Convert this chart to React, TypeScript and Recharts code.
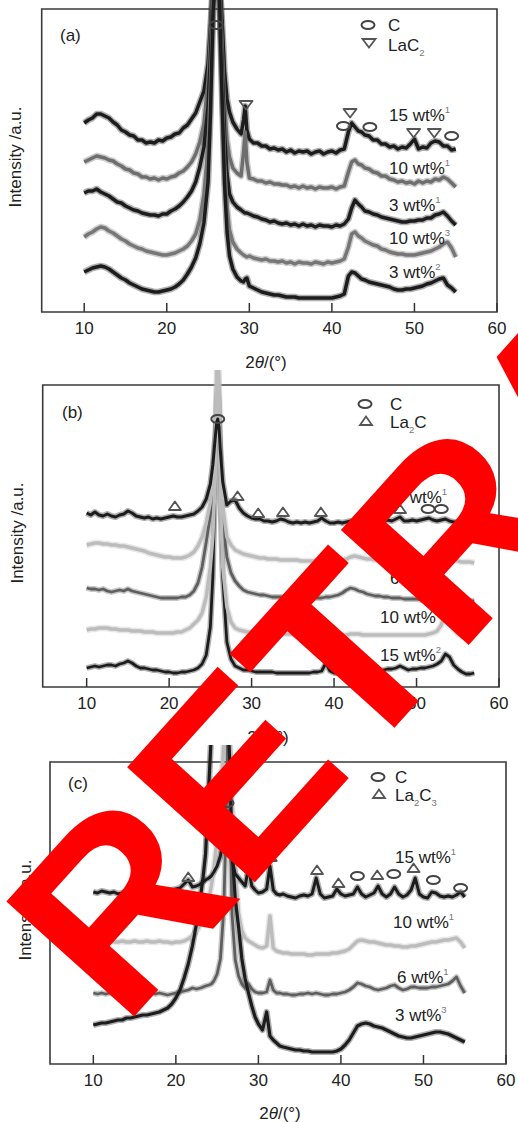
import React from 'react';
import { ComposedChart, Line, XAxis, YAxis, ReferenceArea, ReferenceDot } from 'recharts';

const F = "'Liberation Sans', Arial, Helvetica, sans-serif";

// ---------- Panel (a) ----------
const gridA = [
  10, 10.5, 11, 11.5, 12, 12.5, 13, 13.5, 14, 14.5,
  15, 15.5, 16, 16.5, 17, 17.5, 18, 18.5, 19, 19.5,
  20, 20.5, 21, 21.5, 22, 22.5, 23, 23.5, 24, 24.5,
  25, 25.3, 25.6, 26, 26.4, 26.7, 27, 27.3, 27.6, 28,
  28.5, 29, 29.3, 29.5, 29.7, 30, 30.5, 31, 31.5, 32,
  32.5, 33, 33.5, 34, 34.5, 35, 35.5, 36, 36.5, 37,
  37.5, 38, 38.5, 39, 39.5, 40, 40.5, 41, 41.5, 42,
  42.4, 42.8, 43.2, 43.6, 44, 44.5, 45, 45.5, 46, 46.5,
  47, 47.5, 48, 48.5, 49, 49.5, 50, 50.5, 51, 51.5,
  52, 52.5, 53, 53.5, 54, 54.5, 55,
];
const a15w1 = [
  189, 192, 194, 198, 198, 196, 194, 190, 187, 182,
  180, 177, 176, 172, 172, 169, 170, 169, 172, 171,
  174, 175, 178, 179, 184, 187, 193, 199, 210, 221,
  248, 285, 330, 345, 330, 290, 240, 213, 200, 190,
  183, 178, 192, 206, 182, 173, 169, 169, 166, 166,
  163, 164, 162, 163, 160, 162, 159, 161, 160, 161,
  158, 160, 161, 158, 160, 161, 159, 162, 163, 180,
  189, 185, 181, 180, 177, 176, 172, 172, 168, 168,
  165, 166, 163, 165, 164, 168, 173, 163, 165, 164,
  169, 171, 170, 166, 166, 162, 163,
];
const a10w1 = [
  150, 152, 154, 156, 155, 154, 152, 151, 148, 146,
  143, 142, 139, 138, 135, 135, 133, 134, 132, 134,
  133, 135, 136, 139, 141, 145, 150, 158, 170, 188,
  232, 278, 330, 345, 325, 270, 205, 172, 155, 144,
  139, 136, 160, 180, 150, 134, 133, 131, 131, 129,
  130, 128, 128, 127, 127, 125, 126, 124, 126, 124,
  125, 123, 125, 124, 124, 125, 123, 125, 126, 140,
  150, 152, 148, 147, 144, 143, 140, 139, 136, 136,
  133, 132, 130, 131, 129, 130, 128, 131, 129, 131,
  130, 133, 132, 135, 133, 129, 125,
];
const a3w1 = [
  119, 121, 121, 123, 120, 118, 116, 113, 110, 109,
  106, 104, 102, 101, 99, 98, 97, 97, 96, 98,
  98, 101, 103, 106, 110, 115, 121, 130, 145, 165,
  205, 258, 320, 345, 320, 250, 178, 138, 118, 110,
  105, 102, 100, 99, 99, 98, 96, 95, 93, 92,
  90, 91, 89, 88, 89, 87, 88, 86, 88, 86,
  87, 85, 87, 86, 86, 85, 87, 86, 88, 93,
  104, 112, 108, 105, 101, 100, 98, 97, 95, 94,
  93, 92, 91, 90, 90, 91, 91, 92, 92, 94,
  94, 97, 98, 100, 96, 91, 87,
];
const a10w3 = [
  75, 78, 80, 83, 85, 84, 81, 79, 76, 73,
  71, 68, 66, 64, 63, 61, 60, 59, 58, 57,
  57, 58, 59, 61, 63, 66, 71, 78, 92, 118,
  165, 230, 310, 345, 315, 230, 150, 105, 82, 70,
  63, 59, 57, 56, 55, 56, 54, 53, 52, 53,
  51, 51, 50, 51, 49, 50, 48, 50, 49, 49,
  48, 50, 49, 48, 50, 49, 50, 51, 53, 65,
  78, 80, 76, 74, 71, 69, 67, 66, 63, 62,
  60, 59, 58, 58, 57, 57, 57, 58, 59, 60,
  61, 63, 65, 68, 70, 64, 55,
];
const a3w2 = [
  40, 42, 44, 45, 46, 45, 43, 40, 37, 34,
  32, 29, 27, 25, 23, 22, 21, 20, 20, 21,
  22, 23, 25, 28, 32, 38, 45, 54, 68, 89,
  130, 200, 300, 345, 310, 215, 128, 80, 56, 43,
  35, 31, 30, 33, 34, 26, 24, 22, 20, 19,
  18, 17, 17, 16, 15, 15, 15, 14, 14, 14,
  14, 14, 14, 14, 14, 14, 15, 16, 18, 36,
  40, 39, 36, 33, 32, 30, 29, 28, 27, 26,
  25, 23, 22, 22, 23, 23, 24, 25, 26, 28,
  29, 31, 33, 34, 27, 24, 20,
];
const aMarkC = [[26.0, 287], [41.4, 186], [44.6, 185], [54.5, 176]];
const aMarkLaC2 = [[29.6, 207], [42.2, 199], [49.9, 179], [52.4, 179]];

// ---------- Panel (b) ----------
const gridB = [
  10, 10.5, 11, 11.5, 12, 12.5, 13, 13.5, 14, 14.5,
  15, 15.5, 16, 16.5, 17, 17.5, 18, 18.5, 19, 19.5,
  20, 20.5, 21, 21.5, 22, 22.5, 23, 23.5, 24, 24.5,
  25, 25.3, 25.6, 25.75, 25.9, 26.05, 26.2, 26.5, 27, 27.5,
  28, 28.5, 29, 29.5, 30, 30.5, 31, 31.5, 32, 32.5,
  33, 33.5, 34, 34.5, 35, 35.5, 36, 36.5, 37, 37.5,
  38, 38.5, 39, 39.5, 40, 40.5, 41, 41.5, 42, 42.5,
  43, 43.5, 44, 44.5, 45, 45.5, 46, 46.5, 47, 47.5,
  48, 48.5, 49, 49.5, 50, 50.5, 51, 51.5, 52, 52.5,
  53, 53.5, 54, 54.5, 55, 55.5, 56, 56.5, 57,
];
const b15w1 = [
  174, 172, 175, 172, 171, 173, 171, 170, 172, 173,
  176, 174, 171, 170, 169, 170, 168, 169, 168, 169,
  170, 171, 170, 170, 171, 172, 173, 176, 180, 188,
  203, 222, 250, 264, 268, 260, 238, 205, 182, 186,
  187, 179, 174, 171, 169, 168, 168, 166, 166, 165,
  166, 168, 167, 165, 164, 165, 164, 165, 164, 165,
  166, 169, 166, 164, 164, 165, 164, 165, 166, 165,
  165, 164, 165, 164, 165, 166, 166, 167, 166, 168,
  170, 166, 166, 167, 166, 167, 168, 169, 167, 166,
  167, 168, 166, 165, 165, 164, 165, 164, 164,
];
const b10w1 = [
  142, 143, 144, 144, 143, 143, 142, 142, 141, 141,
  140, 139, 138, 137, 136, 134, 133, 132, 131, 130,
  130, 129, 129, 129, 130, 132, 135, 141, 150, 164,
  185, 205, 250, 300, 335, 300, 230, 180, 150, 142,
  137, 135, 133, 132, 131, 130, 129, 129, 128, 128,
  128, 127, 127, 127, 127, 127, 126, 126, 126, 126,
  126, 126, 126, 126, 126, 126, 127, 128, 130, 131,
  130, 129, 128, 128, 127, 127, 127, 126, 126, 126,
  126, 126, 126, 126, 126, 126, 126, 127, 127, 127,
  128, 129, 128, 127, 126, 125, 125, 125, 124,
];
const b6w1 = [
  99, 98, 98, 97, 98, 96, 95, 96, 97, 96,
  98, 96, 95, 94, 93, 92, 91, 90, 89, 89,
  89, 89, 89, 90, 90, 92, 96, 104, 120, 145,
  172, 195, 235, 265, 280, 265, 215, 165, 130, 114,
  106, 101, 97, 95, 94, 93, 92, 92, 91, 90,
  90, 90, 90, 89, 89, 89, 89, 89, 89, 89,
  89, 89, 90, 90, 91, 92, 94, 97, 99, 98,
  96, 95, 93, 92, 91, 91, 90, 90, 89, 89,
  89, 88, 88, 88, 88, 87, 87, 87, 87, 87,
  88, 89, 88, 87, 87, 86, 86, 86, 86,
];
const b10w3 = [
  57, 58, 58, 59, 59, 59, 58, 58, 57, 57,
  57, 56, 56, 56, 55, 55, 55, 54, 54, 54,
  54, 54, 55, 55, 57, 59, 63, 67, 74, 90,
  120, 150, 210, 280, 335, 280, 190, 120, 80, 65,
  59, 57, 56, 55, 55, 54, 54, 54, 54, 53,
  53, 53, 53, 53, 53, 52, 52, 52, 52, 52,
  52, 52, 52, 52, 52, 52, 52, 52, 53, 53,
  53, 52, 52, 52, 52, 52, 52, 52, 52, 52,
  52, 52, 52, 52, 52, 52, 52, 53, 54, 56,
  62, 74, 70, 58, 53, 51, 50, 50, 50,
];
const b15w2 = [
  19, 20, 21, 20, 21, 22, 22, 21, 23, 24,
  26, 24, 21, 19, 19, 18, 17, 17, 16, 15,
  15, 14, 14, 15, 15, 16, 17, 19, 23, 32,
  60, 110, 215, 285, 300, 285, 195, 110, 45, 28,
  21, 19, 17, 17, 16, 15, 15, 15, 15, 15,
  14, 14, 14, 14, 14, 14, 14, 14, 14, 15,
  15, 16, 24, 16, 14, 14, 14, 14, 15, 15,
  15, 15, 15, 15, 16, 16, 17, 18, 18, 19,
  21, 19, 17, 18, 18, 19, 19, 20, 21, 23,
  26, 33, 30, 22, 18, 15, 13, 13, 14,
];
const bMarkC = [[25.9, 268], [51.4, 178], [53.0, 178]];
const bMarkLa2C = [[20.7, 181], [28.3, 191], [30.8, 174], [33.8, 175], [38.4, 175], [48.0, 178]];

// ---------- Panel (c) ----------
const gridC = [
  10, 10.5, 11, 11.5, 12, 12.5, 13, 13.5, 14, 14.5,
  15, 15.5, 16, 16.5, 17, 17.5, 18, 18.5, 19, 19.5,
  20, 20.5, 21, 21.5, 22, 22.5, 23, 23.3, 23.6, 24,
  24.3, 24.6, 25, 25.4, 25.8, 26.05, 26.3, 26.55, 26.8, 27.2,
  27.6, 28, 28.4, 28.8, 29.2, 29.6, 30, 30.5, 31, 31.4,
  31.8, 32.2, 32.6, 33, 33.5, 34, 34.5, 35, 35.5, 36,
  36.5, 37, 37.5, 38, 38.5, 39, 39.5, 40, 40.5, 41,
  41.5, 42, 42.5, 43, 43.5, 44, 44.5, 45, 45.5, 46,
  46.5, 47, 47.5, 48, 48.5, 49, 49.5, 50, 50.5, 51,
  51.5, 52, 52.5, 53, 53.5, 54, 54.5, 55,
];
const c15w1 = [
  172, 171, 173, 172, 171, 172, 170, 171, 172, 171,
  170, 172, 171, 170, 172, 171, 172, 173, 172, 174,
  175, 176, 180, 184, 177, 178, 180, 182, 184, 186,
  188, 192, 198, 208, 228, 245, 252, 235, 205, 190,
  186, 182, 178, 197, 178, 174, 171, 172, 175, 198,
  174, 170, 169, 170, 168, 167, 166, 168, 169, 168,
  170, 186, 170, 166, 167, 168, 175, 170, 168, 169,
  170, 177, 170, 167, 169, 171, 178, 170, 167, 170,
  177, 170, 167, 169, 174, 186, 170, 167, 166, 172,
  171, 168, 167, 168, 167, 169, 172, 167,
];
const c10w1 = [
  121, 122, 121, 122, 123, 122, 122, 123, 122, 122,
  123, 122, 122, 123, 122, 122, 123, 122, 122, 121,
  122, 122, 123, 125, 128, 133, 140, 146, 154, 165,
  178, 195, 225, 265, 320, 345, 345, 320, 260, 190,
  150, 133, 126, 123, 121, 119, 117, 116, 118, 148,
  116, 113, 112, 111, 111, 110, 110, 110, 110, 109,
  109, 110, 110, 110, 110, 111, 111, 112, 113, 115,
  119, 123, 124, 123, 122, 122, 121, 120, 119, 119,
  118, 118, 117, 117, 118, 118, 119, 120, 121, 122,
  122, 123, 124, 124, 125, 126, 122, 116,
];
const c6w1 = [
  71, 70, 71, 70, 71, 70, 69, 70, 71, 70,
  71, 70, 71, 72, 71, 70, 71, 70, 69, 70,
  71, 72, 73, 74, 76, 75, 76, 77, 78, 79,
  80, 83, 90, 105, 154, 230, 330, 260, 150, 104,
  88, 80, 76, 80, 75, 72, 71, 71, 72, 84,
  74, 71, 71, 70, 70, 69, 69, 70, 70, 71,
  70, 71, 70, 69, 69, 70, 70, 71, 72, 74,
  77, 81, 80, 78, 77, 75, 74, 75, 76, 78,
  79, 76, 74, 75, 77, 77, 76, 76, 76, 77,
  77, 78, 79, 80, 83, 87, 78, 71,
];
const c3w3 = [
  39, 40, 41, 41, 42, 43, 44, 44, 46, 46,
  47, 48, 49, 49, 50, 51, 52, 54, 56, 60,
  66, 74, 86, 100, 118, 140, 168, 187, 210, 280,
  330, 350, 350, 350, 350, 350, 345, 300, 215, 165,
  137, 105, 85, 71, 58, 47, 40, 34, 52, 28,
  24, 21, 18, 17, 16, 15, 14, 14, 13, 13,
  12, 12, 12, 12, 12, 12, 13, 15, 19, 24,
  31, 38, 40, 41, 40, 38, 37, 36, 34, 32,
  30, 28, 27, 26, 26, 27, 28, 29, 30, 31,
  32, 32, 31, 30, 28, 26, 24, 22,
];
const cMarkC = [[26.2, 261], [42.0, 188], [46.4, 190], [51.2, 184], [54.5, 176]];
const cMarkLa2C3 = [[21.5, 187], [28.8, 206], [31.5, 207], [37.1, 194], [39.7, 181], [44.4, 189], [48.8, 196]];

const xTicks = [10, 20, 30, 40, 50, 60];

function buildRows(grid: number[], series: [string, number[]][]) {
  return grid.map((x, i) => {
    const r: Record<string, number> = { x };
    series.forEach(([k, v]) => {
      r[k] = v[i];
    });
    return r;
  });
}

const BLACK = '#1c1c1c';
const DGREY = '#5e5e5e';
const LGREY = '#bcbcbc';

const XTick = (props: any) => {
  const { x, y, payload } = props;
  return (
    <g>
      <line x1={x} x2={x} y1={y} y2={y - 9} stroke="#333" strokeWidth={1.5} />
      <text x={x} y={y + 22} textAnchor="middle" fontSize={17} fontFamily={F} fill="#222">
        {payload.value}
      </text>
    </g>
  );
};

const markerShape = (kind: string) => (p: any) => {
  const { cx, cy } = p;
  if (kind === 'C')
    return <ellipse cx={cx} cy={cy} rx={6.5} ry={4} fill="none" stroke="#444" strokeWidth={2} />;
  if (kind === 'down')
    return (
      <path
        d={`M${cx - 6.5},${cy - 4}L${cx + 6.5},${cy - 4}L${cx},${cy + 4.5}Z`}
        fill="none"
        stroke="#555"
        strokeWidth={1.8}
        strokeLinejoin="round"
      />
    );
  return (
    <path
      d={`M${cx - 6},${cy + 4}L${cx + 6},${cy + 4}L${cx},${cy - 4.5}Z`}
      fill="none"
      stroke="#555"
      strokeWidth={1.8}
      strokeLinejoin="round"
    />
  );
};

type SeriesDef = { key: string; values: number[]; color: string; width: number };

function Panel(props: {
  top: number;
  height: number;
  axisH: number;
  mLeft: number;
  mRight: number;
  xMin: number;
  yMax: number;
  frameTop: number;
  grid: number[];
  series: SeriesDef[];
  markers: { pts: number[][]; kind: string }[];
}) {
  const { top, height, axisH, mLeft, mRight, xMin, yMax, frameTop, grid, series, markers } = props;
  const rows = buildRows(
    grid,
    series.map((s) => [s.key, s.values] as [string, number[]])
  );
  return (
    <div style={{ position: 'absolute', left: 0, top, width: 518, height }}>
      <ComposedChart
        width={518}
        height={height}
        data={rows}
        margin={{ top: 0, right: mRight, left: mLeft, bottom: 0 }}
      >
        <XAxis
          dataKey="x"
          type="number"
          domain={[xMin, 60]}
          ticks={xTicks}
          interval={0}
          allowDataOverflow
          height={axisH}
          axisLine={false}
          tickLine={false}
          tickSize={0}
          tickMargin={0}
          tick={XTick}
        />
        <YAxis type="number" domain={[0, yMax]} allowDataOverflow hide />
        <ReferenceArea
          x1={xMin}
          x2={60}
          y1={0}
          y2={frameTop}
          fill="none"
          stroke="#3a3a3a"
          strokeWidth={1.6}
          ifOverflow="visible"
        />
        {series.map((s) => (
          <Line
            key={`${s.key}-halo`}
            dataKey={s.key}
            type="linear"
            stroke={s.color}
            strokeOpacity={0.35}
            strokeWidth={s.width + 3}
            strokeLinejoin="round"
            dot={false}
            activeDot={false}
            legendType="none"
            isAnimationActive={false}
          />
        ))}
        {series.map((s) => (
          <Line
            key={s.key}
            dataKey={s.key}
            type="linear"
            stroke={s.color}
            strokeWidth={s.width}
            strokeLinejoin="round"
            dot={false}
            activeDot={false}
            isAnimationActive={false}
          />
        ))}
        {markers.map((m, mi) =>
          m.pts.map((p, i) => (
            <ReferenceDot
              key={`${mi}-${i}`}
              x={p[0]}
              y={p[1]}
              r={5}
              ifOverflow="visible"
              shape={markerShape(m.kind)}
            />
          ))
        )}
      </ComposedChart>
    </div>
  );
}

// text with optional super/subscript parts: [text, 'n'|'sup'|'sub']
const RichText = (p: { x: number; y: number; parts: [string, string][]; size?: number }) => {
  let level = 0;
  return (
    <text x={p.x} y={p.y} fontSize={p.size || 17} fontFamily={F} fill="#222">
      {p.parts.map(([s, kind], i) => {
        const target = kind === 'sup' ? -8 : kind === 'sub' ? 5 : 0;
        const dy = target - level;
        level = target;
        return (
          <tspan
            key={i}
            dy={dy}
            fontSize={kind === 'n' ? undefined : 9.5}
            fill={kind === 'n' ? undefined : '#777'}
          >
            {s}
          </tspan>
        );
      })}
    </text>
  );
};

const Lbl = (p: { x: number; y: number; main: string; sup: string }) => (
  <RichText x={p.x} y={p.y} parts={[[p.main, 'n'], [p.sup, 'sup']]} />
);

const XLabel = ({ x, y }: { x: number; y: number }) => (
  <text x={x} y={y} textAnchor="middle" fontSize={17} fontFamily={F} fill="#222">
    2<tspan fontStyle="italic">θ</tspan>/(°)
  </text>
);

const YLabel = ({ x, y }: { x: number; y: number }) => (
  <text
    x={x}
    y={y}
    textAnchor="middle"
    fontSize={17}
    fontFamily={F}
    fill="#222"
    transform={`rotate(-90 ${x} ${y})`}
  >
    Intensity /a.u.
  </text>
);

const Ell = ({ x, y }: { x: number; y: number }) => (
  <ellipse cx={x} cy={y} rx={6.5} ry={4} fill="none" stroke="#444" strokeWidth={2} />
);
const Down = ({ x, y }: { x: number; y: number }) => (
  <path d={`M${x - 6.5},${y - 4}L${x + 6.5},${y - 4}L${x},${y + 4.5}Z`} fill="none" stroke="#555" strokeWidth={1.8} />
);
const Up = ({ x, y }: { x: number; y: number }) => (
  <path d={`M${x - 6},${y + 4}L${x + 6},${y + 4}L${x},${y - 4.5}Z`} fill="none" stroke="#555" strokeWidth={1.8} />
);

export default function App() {
  return (
    <div style={{ position: 'absolute', left: 0, top: 0, width: 518, height: 1122, background: '#fff', overflow: 'hidden' }}>
      <Panel
        top={0}
        height={370}
        axisH={58}
        mLeft={41.7}
        mRight={21}
        xMin={4.85}
        yMax={312}
        frameTop={303}
        grid={gridA}
        series={[
          { key: 'a15w1', values: a15w1, color: BLACK, width: 3.5 },
          { key: 'a10w1', values: a10w1, color: '#6e6e6e', width: 3.5 },
          { key: 'a3w1', values: a3w1, color: BLACK, width: 3.5 },
          { key: 'a10w3', values: a10w3, color: '#767676', width: 3.5 },
          { key: 'a3w2', values: a3w2, color: BLACK, width: 3.5 },
        ]}
        markers={[
          { pts: aMarkC, kind: 'C' },
          { pts: aMarkLaC2, kind: 'down' },
        ]}
      />
      <Panel
        top={370}
        height={370}
        axisH={53}
        mLeft={42.7}
        mRight={19}
        xMin={4.67}
        yMax={317}
        frameTop={302}
        grid={gridB}
        series={[
          { key: 'b15w2', values: b15w2, color: BLACK, width: 2.8 },
          { key: 'b6w1', values: b6w1, color: DGREY, width: 2.8 },
          { key: 'b10w1', values: b10w1, color: LGREY, width: 3.5 },
          { key: 'b10w3', values: b10w3, color: LGREY, width: 3.5 },
          { key: 'b15w1', values: b15w1, color: BLACK, width: 3 },
        ]}
        markers={[
          { pts: bMarkC, kind: 'C' },
          { pts: bMarkLa2C, kind: 'up' },
        ]}
      />
      <Panel
        top={745}
        height={377}
        axisH={58}
        mLeft={50}
        mRight={12}
        xMin={4.75}
        yMax={319}
        frameTop={302}
        grid={gridC}
        series={[
          { key: 'c10w1', values: c10w1, color: LGREY, width: 3.5 },
          { key: 'c6w1', values: c6w1, color: DGREY, width: 2.8 },
          { key: 'c3w3', values: c3w3, color: BLACK, width: 3.2 },
          { key: 'c15w1', values: c15w1, color: BLACK, width: 3 },
        ]}
        markers={[
          { pts: cMarkC, kind: 'C' },
          { pts: cMarkLa2C3, kind: 'up' },
        ]}
      />
      <svg
        width={518}
        height={1122}
        style={{ position: 'absolute', left: 0, top: 0, pointerEvents: 'none' }}
      >
        {/* panel (a) */}
        <RichText x={60} y={41} parts={[['(a)', 'n']]} />
        <Ell x={368} y={25} />
        <RichText x={388} y={31} parts={[['C', 'n']]} />
        <Down x={369} y={43} />
        <RichText x={388} y={51} parts={[['LaC', 'n'], ['2', 'sub']]} />
        <Lbl x={389} y={121} main="15 wt%" sup="1" />
        <Lbl x={389} y={174} main="10 wt%" sup="1" />
        <Lbl x={389} y={211} main="3 wt%" sup="1" />
        <Lbl x={389} y={244} main="10 wt%" sup="3" />
        <Lbl x={389} y={278} main="3 wt%" sup="2" />
        <XLabel x={266} y={368} />
        <YLabel x={21} y={157} />

        {/* panel (b) */}
        <RichText x={62} y={418} parts={[['(b)', 'n']]} />
        <Ell x={365} y={404} />
        <RichText x={390} y={410} parts={[['C', 'n']]} />
        <Up x={366} y={421} />
        <RichText x={390} y={428} parts={[['La', 'n'], ['2', 'sub'], ['C', 'n']]} />
        <Lbl x={386} y={503} main="15 wt%" sup="1" />
        <Lbl x={390} y={584} main="6 wt%" sup="1" />
        <Lbl x={380} y={623} main="10 wt%" sup="3" />
        <Lbl x={380} y={661} main="15 wt%" sup="2" />
        <XLabel x={268} y={743} />
        <YLabel x={23} y={533} />

        {/* panel (c) */}
        <RichText x={68} y={789} parts={[['(c)', 'n']]} />
        <Ell x={378} y={777} />
        <RichText x={395} y={783} parts={[['C', 'n']]} />
        <Up x={379} y={794} />
        <RichText x={395} y={801} parts={[['La', 'n'], ['2', 'sub'], ['C', 'n'], ['3', 'sub']]} />
        <Lbl x={395} y={863} main="15 wt%" sup="1" />
        <Lbl x={393} y={928} main="10 wt%" sup="1" />
        <Lbl x={397} y={983} main="6 wt%" sup="1" />
        <Lbl x={395} y={1021} main="3 wt%" sup="3" />
        <XLabel x={280} y={1119} />
        <YLabel x={31} y={910} />

        {/* watermark */}
        <text
          x={123}
          y={1029}
          fontSize={250}
          fontWeight="bold"
          fontFamily={F}
          fill="#ff0000"
          transform="rotate(-48 123 1029)"
        >
          RETRACTED
        </text>
      </svg>
    </div>
  );
}
